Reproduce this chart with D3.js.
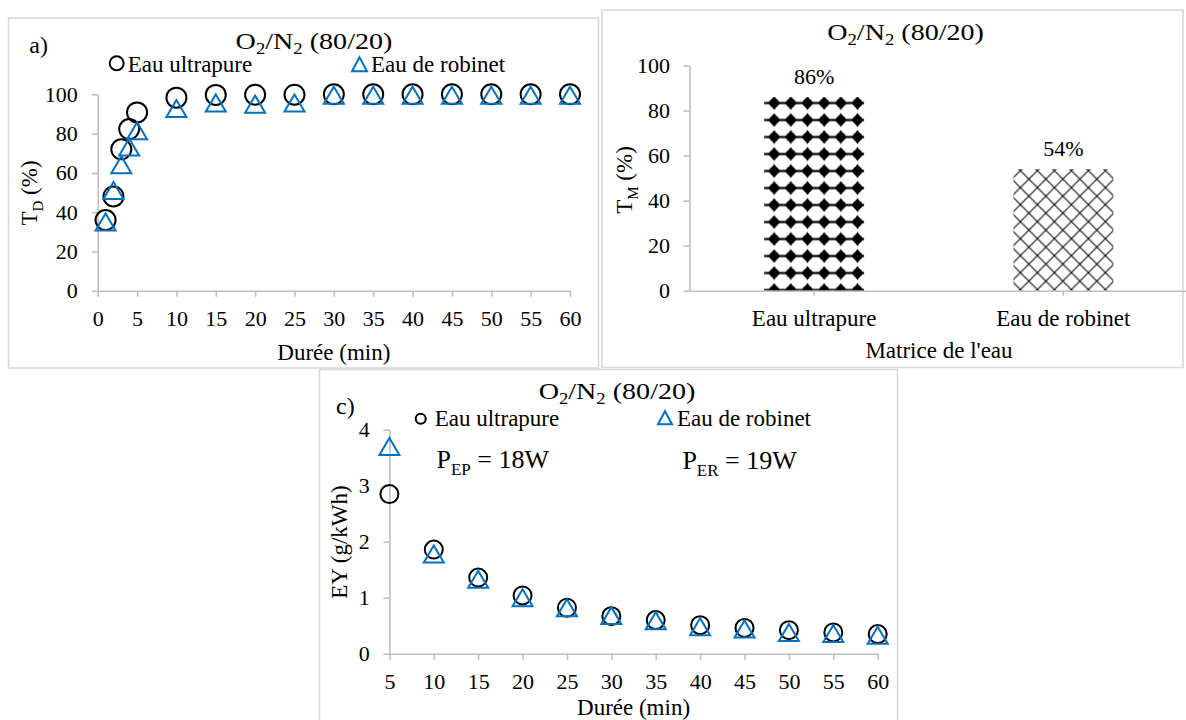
<!DOCTYPE html>
<html><head><meta charset="utf-8">
<script src="https://cdn.jsdelivr.net/npm/d3@7"></script>
<style>
body{margin:0;background:#fff}
svg{display:block}
text{font-family:'Liberation Serif','Times New Roman',serif;fill:#000;white-space:pre}
</style></head>
<body><svg id="chart" width="1186" height="720"></svg>
<script>
// ---------- DATA ----------
const timeA = [1, 2, 3, 4, 5, 10, 15, 20, 25, 30, 35, 40, 45, 50, 55, 60];
const tdUltrapure = [36, 48, 72, 82.3, 90.8, 98.3, 99.7, 99.8, 99.8, 100, 100, 100, 100, 100, 100, 100];
const tdRobinet   = [35, 51, 64.2, 73.2, 81.4, 92.8, 95.6, 95, 95.6, 99.5, 99.5, 99.5, 99.5, 99.5, 99.5, 99.5];
const xTicksA = [0, 5, 10, 15, 20, 25, 30, 35, 40, 45, 50, 55, 60];
const yTicksA = [0, 20, 40, 60, 80, 100];

const categoriesB = ["Eau ultrapure", "Eau de robinet"];
const tmValues = [86, 54];
const tmLabels = ["86%", "54%"];
const yTicksB = [0, 20, 40, 60, 80, 100];

const timeC = [5, 10, 15, 20, 25, 30, 35, 40, 45, 50, 55, 60];
const eyUltrapure = [2.85, 1.86, 1.36, 1.04, 0.82, 0.67, 0.60, 0.51, 0.46, 0.42, 0.38, 0.35];
const eyRobinet   = [3.70, 1.78, 1.33, 1.00, 0.82, 0.68, 0.59, 0.48, 0.44, 0.38, 0.36, 0.33];
const xTicksC = [5, 10, 15, 20, 25, 30, 35, 40, 45, 50, 55, 60];
const yTicksC = [0, 1, 2, 3, 4];

const seriesNames = ["Eau ultrapure", "Eau de robinet"];
// ---------- END DATA ----------

const FONT = "'Liberation Serif','Times New Roman',serif";
const BLUE = "#0070C0";
const AXIS = "#bfbfbf";
const BORDER = "#d9d9d9";

const svg = d3.select("#chart");
svg.append("rect").attr("width", 1186).attr("height", 720).attr("fill", "#fff");
const defs = svg.append("defs");

function richText(g, x, y, parts, o) {
  const t = g.append("text").attr("x", x).attr("y", y)
    .attr("font-size", o.size).attr("text-anchor", o.anchor || "start");
  if (o.rotate) t.attr("transform", `rotate(-90,${x},${y})`);
  if (o.sx) t.attr("transform", `translate(${x},${y}) scale(${o.sx},1) translate(${-x},${-y})`);
  let shifted = false;
  parts.forEach(p => {
    const s = t.append("tspan").text(p.t);
    if (p.sub) { s.attr("font-size", o.subSize).attr("dy", shifted ? 0 : o.subDy); shifted = true; }
    else { s.attr("dy", shifted ? -o.subDy : 0); shifted = false; }
  });
  return t;
}
const titleParts = [{t:"O"},{t:"2",sub:true},{t:"/"},{t:"N"},{t:"2",sub:true},{t:" (80/20)"}];

function styleAxis(g) {
  g.attr("font-family", FONT).attr("font-size", 22);
  g.select(".domain").attr("stroke", AXIS).attr("stroke-width", 1.6);
  g.selectAll(".tick line").attr("stroke", AXIS).attr("stroke-width", 1.6);
  g.selectAll(".tick text").attr("fill", "#000");
}
function triPath(cx, cy, w, h) {
  return `M${cx},${cy - h / 2}L${cx + w / 2},${cy + h / 2}L${cx - w / 2},${cy + h / 2}Z`;
}
function border(x, y, w, h) {
  svg.append("rect").attr("x", x).attr("y", y).attr("width", w).attr("height", h)
    .attr("fill", "none").attr("stroke", BORDER).attr("stroke-width", 1.6);
}

// ================= PANEL A =================
border(8.5, 18, 590, 350);
const gA = svg.append("g");
const xA = d3.scaleLinear().domain([0, 60]).range([97.7, 570]);
const yA = d3.scaleLinear().domain([0, 100]).range([290.8, 94.3]);
gA.append("g").attr("transform", `translate(0,${yA(0)})`)
  .call(d3.axisBottom(xA).tickValues(xTicksA).tickSize(6).tickSizeOuter(0).tickPadding(14).tickFormat(d3.format("d")))
  .call(styleAxis);
gA.append("g").attr("transform", `translate(${xA(0)},0)`)
  .call(d3.axisLeft(yA).tickValues(yTicksA).tickSize(6).tickSizeOuter(0).tickPadding(14).tickFormat(d3.format("d")))
  .call(styleAxis);
gA.selectAll("circle.u").data(timeA).join("circle")
  .attr("cx", d => xA(d)).attr("cy", (d, i) => yA(tdUltrapure[i])).attr("r", 10)
  .attr("fill", "none").attr("stroke", "#000").attr("stroke-width", 2);
gA.selectAll("path.r").data(timeA).join("path")
  .attr("d", (d, i) => triPath(xA(d), yA(tdRobinet[i]), 20, 17))
  .attr("fill", "none").attr("stroke", BLUE).attr("stroke-width", 2);
richText(gA, 314, 49.5, titleParts, {size: 24, subSize: 16, subDy: 4.5, anchor: "middle", sx: 1.17});
gA.append("text").attr("x", 29.3).attr("y", 53.3).attr("font-size", 24).text("a)");
// legend
gA.append("circle").attr("cx", 116.7).attr("cy", 63.3).attr("r", 7).attr("fill", "none").attr("stroke", "#000").attr("stroke-width", 2);
gA.append("text").attr("x", 127.7).attr("y", 71.7).attr("font-size", 23).text(seriesNames[0]);
gA.append("path").attr("d", triPath(359.5, 64.2, 15, 14)).attr("fill", "none").attr("stroke", BLUE).attr("stroke-width", 2);
gA.append("text").attr("x", 371).attr("y", 71.7).attr("font-size", 23).text(seriesNames[1]);
gA.append("text").attr("x", (xA(0) + xA(60)) / 2).attr("y", 360).attr("font-size", 23).attr("text-anchor", "middle").text("Durée (min)");
richText(gA, 36.5, 193, [{t:"T"},{t:"D",sub:true},{t:" (%)"}], {size: 23, subSize: 15, subDy: 6, anchor: "middle", rotate: true});

// ================= PANEL B =================
border(602, 10, 581, 357.5);
const gB = svg.append("g");
const xB = d3.scaleBand().domain(categoriesB).range([689.5, 1188]).padding(0);
const yB = d3.scaleLinear().domain([0, 100]).range([290.7, 65.5]);
const barW = xB.bandwidth() * 0.401;
const barL = c => xB(c) + (xB.bandwidth() - barW) / 2;

// pattern 1: solid rounded diamonds joined horizontally
const pd = 16.67, ph = 17;
const cxp = pd / 2, cyp = ph / 2;
const p1 = defs.append("pattern").attr("id", "pDiamond").attr("patternUnits", "userSpaceOnUse")
  .attr("x", barL(categoriesB[0]) + 10 - pd / 2).attr("y", yB(tmValues[0]) + 6 - ph / 2)
  .attr("width", pd).attr("height", ph);
p1.append("rect").attr("width", pd).attr("height", ph).attr("fill", "#fff");
p1.append("line").attr("x1", 0).attr("x2", pd).attr("y1", cyp).attr("y2", cyp).attr("stroke", "#000").attr("stroke-width", 2.2);
p1.append("path").attr("d",
  `M${cxp},${cyp-7}L${cxp+2.6},${cyp-3.4}L${cxp+6.3},${cyp}L${cxp+2.6},${cyp+3.4}L${cxp},${cyp+7}L${cxp-2.6},${cyp+3.4}L${cxp-6.3},${cyp}L${cxp-2.6},${cyp-3.4}Z`)
  .attr("fill", "#000");
p1.append("circle").attr("cx", cxp).attr("cy", cyp).attr("r", 4.6).attr("fill", "#000");

// pattern 2: outlined diamonds lattice
const lp = 17;
const p2 = defs.append("pattern").attr("id", "pLattice").attr("patternUnits", "userSpaceOnUse")
  .attr("x", barL(categoriesB[1]) + 7).attr("y", yB(tmValues[1]) + 1.5)
  .attr("width", lp).attr("height", lp);
p2.append("rect").attr("width", lp).attr("height", lp).attr("fill", "#fff");
p2.append("path").attr("d", `M-2,-2L${lp+2},${lp+2}M${lp+2},-2L-2,${lp+2}`).attr("stroke", "#000").attr("stroke-width", 1.05).attr("fill", "none");

const patterns = ["url(#pDiamond)", "url(#pLattice)"];
gB.selectAll("rect.bar").data(categoriesB).join("rect")
  .attr("x", d => barL(d)).attr("width", barW)
  .attr("y", (d, i) => yB(tmValues[i])).attr("height", (d, i) => yB(0) - yB(tmValues[i]))
  .attr("fill", (d, i) => patterns[i]);
gB.selectAll("text.lab").data(categoriesB).join("text")
  .attr("x", d => xB(d) + xB.bandwidth() / 2).attr("y", (d, i) => yB(tmValues[i]) - 13)
  .attr("font-size", 22).attr("text-anchor", "middle").text((d, i) => tmLabels[i]);
gB.append("g").attr("transform", `translate(0,${yB(0)})`)
  .call(d3.axisBottom(xB).tickSize(5).tickSizeOuter(0).tickPadding(14))
  .call(styleAxis).call(g => g.attr("font-size", 23));
gB.append("g").attr("transform", `translate(${xB.range()[0]},0)`)
  .call(d3.axisLeft(yB).tickValues(yTicksB).tickSize(6).tickSizeOuter(0).tickPadding(13.5).tickFormat(d3.format("d")))
  .call(styleAxis);
richText(gB, 905.6, 40.5, titleParts, {size: 24, subSize: 16, subDy: 4.5, anchor: "middle", sx: 1.17});
gB.append("text").attr("x", 939).attr("y", 358.3).attr("font-size", 23).attr("text-anchor", "middle").text("Matrice de l'eau");
richText(gB, 632, 180, [{t:"T"},{t:"M",sub:true},{t:" (%)"}], {size: 23, subSize: 15, subDy: 6, anchor: "middle", rotate: true});

// ================= PANEL C =================
border(319.5, 369.5, 578, 360);
const gC = svg.append("g");
const xC = d3.scaleLinear().domain([5, 60]).range([389.4, 877.7]);
const yC = d3.scaleLinear().domain([0, 4]).range([653.7, 429.7]);
gC.append("g").attr("transform", `translate(0,${yC(0)})`)
  .call(d3.axisBottom(xC).tickValues(xTicksC).tickSize(6).tickSizeOuter(0).tickPadding(14).tickFormat(d3.format("d")))
  .call(styleAxis);
gC.append("g").attr("transform", `translate(${xC(5)},0)`)
  .call(d3.axisLeft(yC).tickValues(yTicksC).tickSize(6).tickSizeOuter(0).tickPadding(13.7).tickFormat(d3.format("d")))
  .call(styleAxis);
gC.selectAll("circle.u").data(timeC).join("circle")
  .attr("cx", d => xC(d)).attr("cy", (d, i) => yC(eyUltrapure[i])).attr("r", 9)
  .attr("fill", "none").attr("stroke", "#000").attr("stroke-width", 2);
gC.selectAll("path.r").data(timeC).join("path")
  .attr("d", (d, i) => triPath(xC(d), yC(eyRobinet[i]), 20, 17))
  .attr("fill", "none").attr("stroke", BLUE).attr("stroke-width", 2);
richText(gC, 617, 399.5, titleParts, {size: 24, subSize: 16, subDy: 4.5, anchor: "middle", sx: 1.17});
gC.append("text").attr("x", 336).attr("y", 414.3).attr("font-size", 24).text("c)");
gC.append("circle").attr("cx", 420.7).attr("cy", 418.7).attr("r", 5).attr("fill", "none").attr("stroke", "#000").attr("stroke-width", 2);
gC.append("text").attr("x", 434.7).attr("y", 426).attr("font-size", 23).text(seriesNames[0]);
gC.append("path").attr("d", triPath(665, 417.7, 14, 13)).attr("fill", "none").attr("stroke", BLUE).attr("stroke-width", 2);
gC.append("text").attr("x", 676.9).attr("y", 426).attr("font-size", 23).text(seriesNames[1]);
richText(gC, 436.5, 468, [{t:"P"},{t:"EP",sub:true},{t:" = 18W"}], {size: 26, subSize: 17, subDy: 7});
richText(gC, 682.4, 469, [{t:"P"},{t:"ER",sub:true},{t:" = 19W"}], {size: 26, subSize: 17, subDy: 7});
gC.append("text").attr("x", (xC(5) + xC(60)) / 2).attr("y", 714.7).attr("font-size", 23).attr("text-anchor", "middle").text("Durée (min)");
richText(gC, 347, 542, [{t:"EY (g/kWh)"}], {size: 23, subSize: 15, subDy: 6, anchor: "middle", rotate: true});
</script></body></html>
